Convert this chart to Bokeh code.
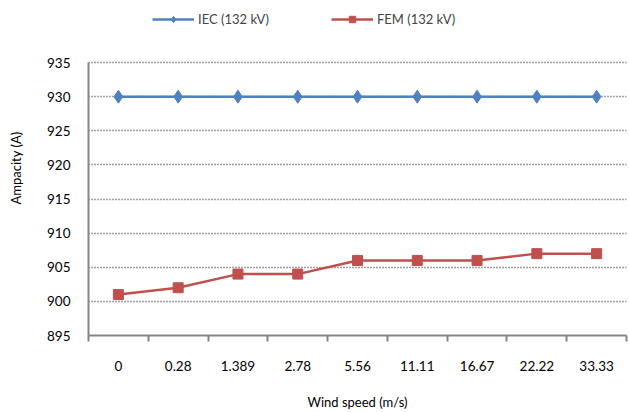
from bokeh.plotting import figure
from bokeh.models import FixedTicker, Legend, LegendItem, Range1d
from bokeh.embed import file_html
from bokeh.resources import INLINE

wind_labels = ["0", "0.28", "1.389", "2.78", "5.56", "11.11", "16.67", "22.22", "33.33"]
iec_values = [930, 930, 930, 930, 930, 930, 930, 930, 930]
fem_values = [901, 902, 904, 904, 906, 906, 906, 907, 907]
y_ticks = [895, 900, 905, 910, 915, 920, 925, 930, 935]

FONT = "Lato"
BLUE = "#4F81BD"
RED = "#C0504D"

xs = [i + 0.5 for i in range(len(wind_labels))]

# frame spans from the legend area (top of canvas) down to the x axis;
# the axis and grid are bounded to 895..935
p = figure(width=628, height=412, output_backend="svg", toolbar_location=None,
           x_range=Range1d(0, len(wind_labels)), y_range=Range1d(895, 944.1),
           min_border_left=88, min_border_right=2, min_border_top=0, min_border_bottom=77)
p.outline_line_color = None
p.background_fill_color = "white"
p.border_fill_color = "white"

l1 = p.line(xs, iec_values, line_color=BLUE, line_width=2.5)
m1 = p.scatter(xs, iec_values, marker="diamond", size=13, fill_color=BLUE, line_color=BLUE)
l2 = p.line(xs, fem_values, line_color=RED, line_width=2.5)
m2 = p.scatter(xs, fem_values, marker="square", size=10, fill_color=RED, line_color=RED)

# x axis: labels at category centers, ticks at boundaries
xt = FixedTicker(ticks=xs, minor_ticks=list(range(len(wind_labels) + 1)))
p.xaxis.ticker = xt
p.xaxis.major_label_overrides = {x: lab for x, lab in zip(xs, wind_labels)}
p.xaxis.major_tick_out = 0
p.xaxis.major_tick_in = 0
p.xaxis.minor_tick_out = 6
p.xaxis.minor_tick_in = 0
p.xaxis.minor_tick_line_color = "#868686"
p.xaxis.axis_line_color = "#868686"
p.xaxis.axis_line_width = 2
p.xaxis.minor_tick_line_width = 2
p.xaxis.major_label_standoff = 19
p.xaxis.axis_label = "Wind speed (m/s)"
p.xaxis.axis_label_standoff = 20

p.yaxis.ticker = FixedTicker(ticks=y_ticks)
p.yaxis.bounds = (895, 935)
p.yaxis.major_tick_out = 0
p.yaxis.major_tick_in = 0
p.yaxis.minor_tick_line_color = None
p.yaxis.axis_line_color = "#868686"
p.yaxis.axis_line_width = 2
p.yaxis.major_label_standoff = 18
p.yaxis.axis_label = "Ampacity (A)"
p.yaxis.axis_label_standoff = 20

for ax in [p.xaxis, p.yaxis]:
    ax.major_label_text_font = FONT
    ax.major_label_text_font_size = "13.5px"
    ax.major_label_text_color = "#000000"
    ax.axis_label_text_font = FONT
    ax.axis_label_text_font_size = "13px"
    ax.axis_label_text_font_style = "normal"
    ax.axis_label_text_color = "#000000"

p.xgrid.grid_line_color = None
p.ygrid.ticker = FixedTicker(ticks=y_ticks[1:])
p.ygrid.grid_line_color = "#444444"
p.ygrid.grid_line_dash = "1 2"
p.ygrid.grid_line_width = 1.5

legend = Legend(items=[LegendItem(label="IEC (132 kV)", renderers=[l1, m1]),
                       LegendItem(label="FEM (132 kV)", renderers=[l2, m2])],
                orientation="horizontal", location=(64, 308),
                glyph_width=42, glyph_height=16, label_standoff=4, spacing=62,
                padding=0, margin=0, border_line_color=None,
                background_fill_alpha=0,
                label_text_font=FONT, label_text_font_size="13px")
p.add_layout(legend, "center")

open("out.html", "w").write(file_html(p, INLINE))
